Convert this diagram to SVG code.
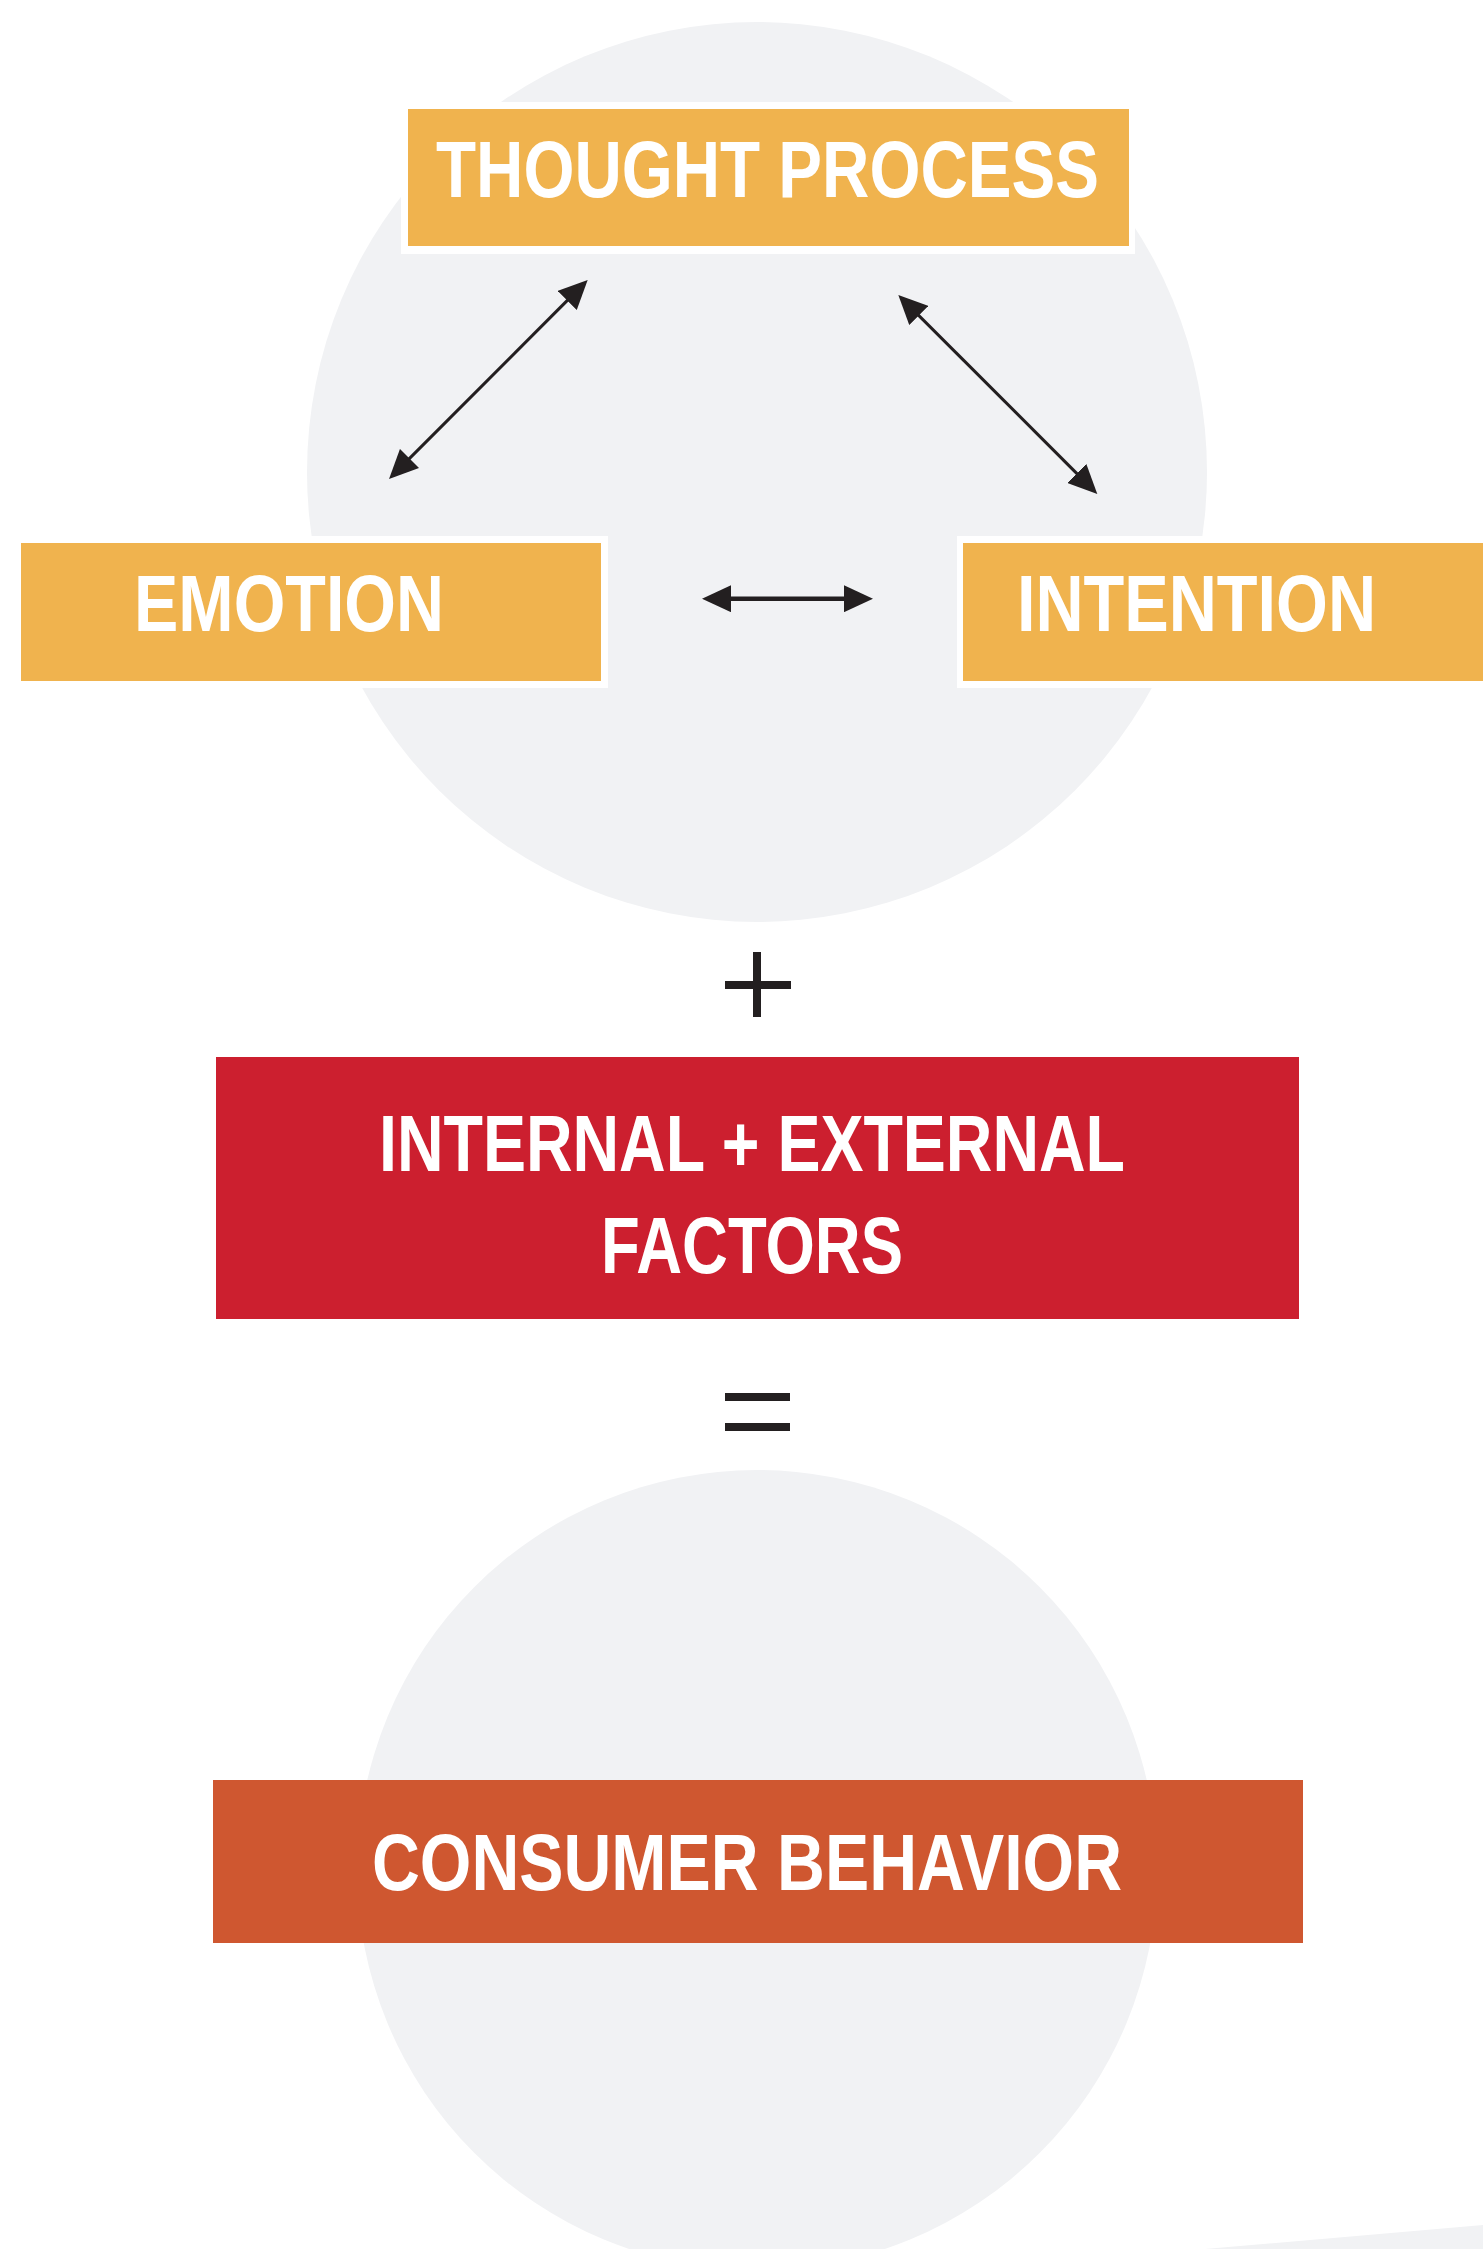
<svg xmlns="http://www.w3.org/2000/svg" width="1483" height="2249" viewBox="0 0 1483 2249">
  <style>
    .bg { fill: #F1F2F4; }
    .frame { fill: #FFFFFF; }
    .amber { fill: #F0B34E; }
    .red { fill: #CC1F2F; }
    .rust { fill: #CF5730; }
    .label { font-family: "Liberation Sans", Arial, sans-serif; font-weight: bold; font-size: 80px; fill: #FFFFFF; text-anchor: middle; }
    .link { stroke: #231F20; fill: none; }
    .sign { fill: #231F20; }
  </style>
  <defs>
    <marker id="head" markerUnits="userSpaceOnUse" markerWidth="29" markerHeight="27" viewBox="0 0 29 27" refX="2" refY="13.5" orient="auto-start-reverse">
      <path d="M0,0 L29,13.5 L0,27 Z" fill="#231F20"/>
    </marker>
  </defs>

  <rect x="0" y="0" width="1483" height="2249" fill="#FFFFFF"/>

  <!-- soft background discs -->
  <g id="backdrop">
    <circle class="bg" cx="757" cy="472" r="450"/>
    <circle class="bg" cx="757" cy="1870" r="400"/>
    <polygon class="bg" points="1205,2249 1483,2225 1483,2249"/>
  </g>

  <!-- connectors between the three inner states -->
  <g id="connectors">
    <line class="link" x1="408.1" y1="459.9" x2="568.6" y2="299.1" stroke-width="3" marker-start="url(#head)" marker-end="url(#head)"/>
    <line class="link" x1="917.4" y1="314.1" x2="1078.2" y2="474.9" stroke-width="3" marker-start="url(#head)" marker-end="url(#head)"/>
    <line class="link" x1="729" y1="598.7" x2="846" y2="598.7" stroke-width="4.5" marker-start="url(#head)" marker-end="url(#head)"/>
  </g>

  <g id="thought-process">
    <rect class="frame" x="401" y="102" width="734" height="152"/>
    <rect class="amber" x="408" y="109" width="721" height="137"/>
    <text class="label" x="767.5" y="197" textLength="663" lengthAdjust="spacingAndGlyphs">THOUGHT PROCESS</text>
  </g>

  <g id="emotion">
    <rect class="frame" x="14" y="536" width="594" height="152"/>
    <rect class="amber" x="21" y="543" width="580" height="138"/>
    <text class="label" x="289" y="631" textLength="310" lengthAdjust="spacingAndGlyphs">EMOTION</text>
  </g>

  <g id="intention">
    <rect class="frame" x="957" y="536" width="526" height="152"/>
    <rect class="amber" x="963" y="543" width="520" height="138"/>
    <text class="label" x="1196.5" y="631" textLength="359" lengthAdjust="spacingAndGlyphs">INTENTION</text>
  </g>

  <g id="plus-sign">
    <rect class="sign" x="725" y="981" width="66" height="8"/>
    <rect class="sign" x="753" y="952" width="8" height="65"/>
  </g>

  <g id="factors">
    <rect class="red" x="216" y="1057" width="1083" height="262"/>
    <text class="label" x="752" y="1171" textLength="746" lengthAdjust="spacingAndGlyphs">INTERNAL + EXTERNAL</text>
    <text class="label" x="752" y="1273" textLength="302" lengthAdjust="spacingAndGlyphs">FACTORS</text>
  </g>

  <g id="equals-sign">
    <rect class="sign" x="725" y="1393" width="65" height="8"/>
    <rect class="sign" x="725" y="1423" width="65" height="8"/>
  </g>

  <g id="consumer-behavior">
    <rect class="rust" x="213" y="1780" width="1090" height="163"/>
    <text class="label" x="747" y="1890" textLength="750" lengthAdjust="spacingAndGlyphs">CONSUMER BEHAVIOR</text>
  </g>
</svg>
